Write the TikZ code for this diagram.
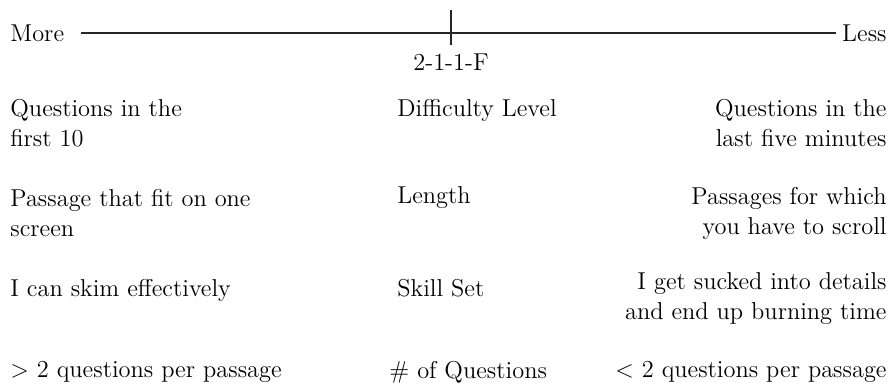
\documentclass[tikz,border=0pt]{standalone}
\usepackage{tikz}
\usetikzlibrary{positioning,calc}

\begin{document}
\begin{tikzpicture}[
      x=0.5pt, y=-0.5pt,
      every node/.style={inner sep=0pt, font=\fontsize{12.2}{15}\selectfont},
      esq/.style={anchor=west, align=left},
      meio/.style={anchor=west, align=left},
      dir/.style={anchor=east, align=right},
      eixo/.style={line width=0.8pt, black!85}
  ]
      \useasboundingbox (0,0) rectangle (893,387);

      % Eixo
      \node[anchor=west] (more) at (10,33) {More};
      \node[anchor=east] (less) at (887,33) {Less};
      \draw[eixo, shorten <=8pt, shorten >=3pt] (more.east) -- (less.west);
      \coordinate (tickA) at (451,10);
      \coordinate (tickB) at (451,45);
      \draw[eixo] (tickA) -- (tickB);
      \node (code) at (451,62) {2-1-1-F};

      % Linhas
      \node[esq] (dl) at (10,123) {Questions in the\\first 10};
      \node[meio] (dm) at (397,110) {Difficulty Level};
      \node[dir] (dr) at (887,123) {Questions in the\\last five minutes};

      \node[esq] (ll) at (10,213) {Passage that fit on one\\screen};
      \node[meio] (lm) at (397,198) {Length};
      \node[dir] (lr) at (887,213) {Passages for which\\you have to scroll};

      \node[esq] (sl) at (10,290) {I can skim effectively};
      \node[meio] (sm) at (397,288) {Skill Set};
      \node[dir] (sr) at (887,299) {I get sucked into details\\and end up burning time};

      \node[esq] (nl) at (10,372) {> 2 questions per passage};
      \node[meio] (nm) at (389,372) {\# of Questions};
      \node[dir] (nr) at (887,372) {< 2 questions per passage};

  \end{tikzpicture}
\end{document}
